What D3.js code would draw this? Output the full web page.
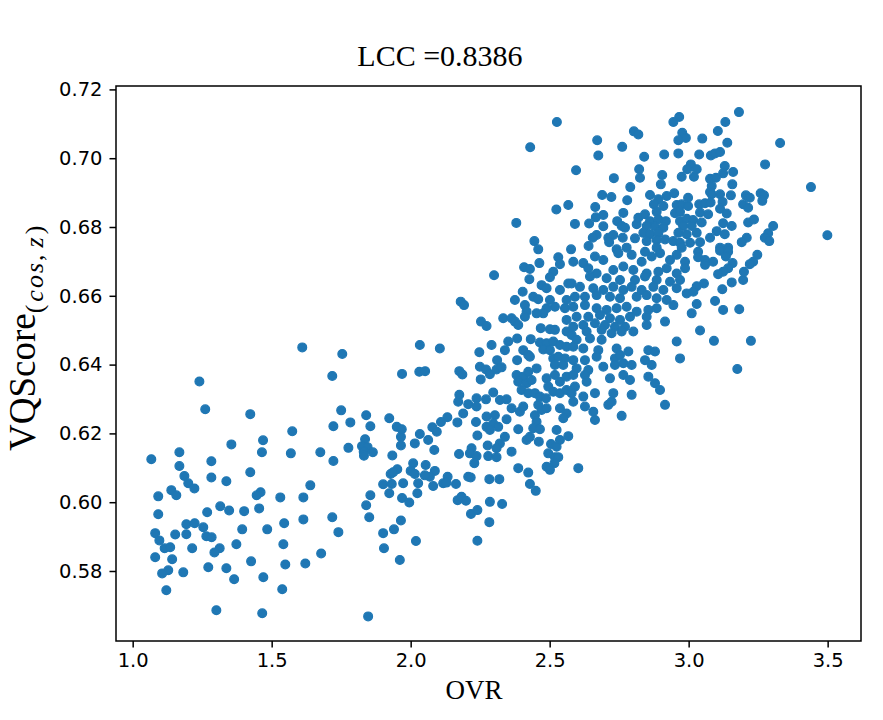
<!DOCTYPE html>
<html>
<head>
<meta charset="utf-8">
<script src="https://cdn.jsdelivr.net/npm/d3@7"></script>
<style>
  body { margin: 0; background: #fff; }
  svg { display: block; }
</style>
</head>
<body>
<div id="chart"></div>
<script>
const width = 883;
const height = 720;

const margin = {top: 86, right: 22, bottom: 79, left: 116};

const titleText = "LCC =0.8386";
const xLabel = "OVR";
const xTicks = [1.0, 1.5, 2.0, 2.5, 3.0, 3.5];
const yTicks = [0.58, 0.60, 0.62, 0.64, 0.66, 0.68, 0.70, 0.72];

// [OVR, VQScore] pairs, left sparse part first
const lowSamples = [
  [1.610,.6450],[1.754,.6431],[1.718,.6367],[1.240,.6351],[1.261,.6270],[1.423,.6256],[1.750,.6267],[1.840,.6253],[1.783,.6232],[1.722,.6221],
  [1.855,.6221],[1.574,.6206],[1.836,.6183],[1.469,.6180],[1.355,.6168],[1.825,.6163],[1.845,.6160],[1.776,.6158],[1.831,.6147],[1.864,.6145],
  [1.832,.6135],[1.168,.6145],[1.465,.6145],[1.569,.6142],[1.675,.6145],[1.067,.6125],[1.283,.6119],[1.722,.6120],[1.168,.6105],[1.423,.6087],
  [1.186,.6076],[1.283,.6072],[1.337,.6061],[1.200,.6055],[1.222,.6040],[1.639,.6049],[1.139,.6035],[1.157,.6020],[1.092,.6017],[1.460,.6029],
  [1.446,.6020],[1.531,.6014],[1.614,.6014],[1.855,.6020],[1.840,.5991],[1.315,.5988],[1.347,.5976],[1.455,.5982],[1.268,.5971],[1.401,.5974],
  [1.092,.5965],[1.851,.5956],[1.718,.5956],[1.614,.5950],[1.545,.5939],[1.193,.5936],[1.223,.5939],[1.254,.5927],[1.394,.5921],[1.484,.5921],
  [1.740,.5913],[1.081,.5910],[1.153,.5906],[1.193,.5907],[1.265,.5901],[1.284,.5898],[1.096,.5889],[1.115,.5866],[1.135,.5869],[1.214,.5866],
  [1.313,.5866],[1.294,.5854],[1.373,.5878],[1.542,.5878],[1.678,.5851],[1.081,.5840],[1.142,.5834],[1.426,.5828],[1.549,.5819],[1.621,.5822],
  [1.272,.5811],[1.337,.5808],[1.128,.5802],[1.106,.5793],[1.182,.5796],[1.365,.5776],[1.470,.5782],[1.121,.5744],[1.538,.5747],[1.301,.5686],
  [1.466,.5677],[1.847,.5668]
];

const midSamples = [
  [2.033,.6457],[2.105,.6447],[2.291,.6457],[2.247,.6436],[2.339,.6442],[2.311,.6413],[1.969,.6373],[2.031,.6379],[2.052,.6381],[2.175,.6381],
  [2.186,.6371],[2.249,.6394],[2.271,.6386],[2.285,.6372],[2.309,.6386],[2.327,.6392],[2.252,.6357],[2.297,.6319],[2.175,.6312],[2.171,.6292],
  [2.207,.6285],[2.237,.6302],[2.237,.6278],[2.271,.6299],[2.321,.6297],[2.345,.6299],[2.189,.6258],[1.923,.6244],[2.132,.6247],[2.109,.6233],
  [2.168,.6232],[2.235,.6233],[2.273,.6249],[2.303,.6253],[2.273,.6219],[2.297,.6229],[2.315,.6219],[2.345,.6241],[2.285,.6210],[1.950,.6219],
  [1.968,.6212],[1.965,.6190],[1.965,.6165],[2.078,.6218],[2.094,.6205],[2.033,.6198],[2.015,.6171],[2.063,.6181],[2.240,.6194],[2.321,.6171],
  [2.339,.6190],[2.309,.6157],[2.277,.6165],[2.085,.6152],[1.934,.6136],[2.174,.6140],[2.219,.6157],[2.213,.6142],[2.237,.6134],[2.229,.6113],
  [2.279,.6134],[2.309,.6131],[2.009,.6113],[2.054,.6108],[2.000,.6091],[2.015,.6082],[1.952,.6096],[1.928,.6082],[1.937,.6087],[2.087,.6091],
  [2.069,.6074],[2.051,.6078],[2.133,.6074],[2.117,.6055],[2.207,.6074],[2.216,.6072],[2.283,.6067],[2.319,.6067],[1.901,.6052],[1.932,.6053],
  [1.973,.6055],[1.923,.6026],[2.027,.6055],[2.024,.6026],[2.081,.6047],[2.129,.6057],[2.163,.6053],[1.969,.6012],[1.995,.5999],[2.169,.6006],
  [2.183,.6016],[2.199,.6004],[2.285,.6001],[2.329,.5995],[2.217,.5966],[2.240,.5977],[1.965,.5947],[1.940,.5921],[1.901,.5910],[2.283,.5942],
  [1.904,.5866],[2.019,.5887],[2.240,.5888],[1.961,.5832],
  [2.363,.6273],[2.393,.6263],[2.405,.6278],[2.459,.6283],[2.471,.6268],[2.489,.6273],[2.537,.6273],[2.561,.6258],[2.549,.6244],[2.585,.6292],
  [2.627,.6278],[2.657,.6263],[2.663,.6239],[2.711,.6283],[2.723,.6292],[2.759,.6251],[2.447,.6253],[2.453,.6234],[2.441,.6215],[2.465,.6212],
  [2.387,.6212],[2.525,.6210],[2.567,.6192],[2.537,.6181],[2.417,.6181],[2.429,.6190],[2.461,.6176],[2.505,.6169],[2.525,.6161],[2.363,.6147],
  [2.495,.6142],[2.519,.6131],[2.531,.6131],[2.517,.6113],[2.489,.6103],[2.501,.6094],[2.387,.6099],[2.423,.6086],[2.603,.6099],[2.429,.6053],
  [2.450,.6033],[2.915,.6283]
];

const highSamples = [
  [2.526,.7105],[2.803,.7078],[2.819,.7069],[2.671,.7052],[2.430,.7032],[2.761,.7033],[2.675,.7008],[2.595,.6965],[2.822,.6968],[2.825,.6943],
  [2.731,.6942],[2.790,.6916],[2.689,.6893],[2.722,.6887],[2.779,.6878],[2.567,.6864],[2.524,.6851],[2.664,.6858],[2.765,.6841],[2.693,.6835],
  [2.666,.6828],[2.380,.6812],[2.591,.6809],[2.642,.6810],[2.693,.6802],[2.743,.6817],[2.759,.6803],[2.771,.6798],[2.813,.6808],[2.819,.6827],
  [2.729,.6777],[2.711,.6769],[2.714,.6756],[2.763,.6769],[2.807,.6767],[2.669,.6777],[2.655,.6769],[2.445,.6759],[2.459,.6735],[2.577,.6735],
  [2.640,.6745],[2.741,.6735],[2.777,.6740],
  [3.181,.7134],[2.966,.7120],[2.945,.7105],[3.132,.7105],[3.105,.7079],[2.977,.7074],[2.990,.7059],[2.963,.7052],[3.049,.7057],[3.139,.7045],
  [3.329,.7044],[2.912,.7011],[2.963,.7014],[3.038,.7011],[3.080,.7008],[3.095,.7014],[3.113,.7018],[2.840,.7004],[3.275,.6982],[3.008,.6982],
  [2.995,.6968],[3.029,.6968],[3.019,.6946],[2.975,.6946],[3.130,.6977],[3.160,.6960],[3.124,.6956],[2.905,.6951],[2.900,.6924],[3.077,.6940],
  [3.098,.6943],[3.157,.6924],[3.440,.6916],[3.083,.6919],[3.077,.6902],[3.083,.6895],[3.113,.6895],[2.861,.6893],[2.891,.6881],[2.921,.6890],
  [2.948,.6898],[2.998,.6885],[3.152,.6892],[3.206,.6892],[3.220,.6885],[3.196,.6866],[3.214,.6856],[3.259,.6898],[3.271,.6892],[3.265,.6876],
  [2.875,.6866],[2.909,.6861],[2.957,.6864],[2.975,.6866],[2.998,.6861],[3.038,.6866],[3.059,.6869],[3.079,.6871],[3.122,.6873],[3.113,.6853],
  [3.137,.6839],[2.843,.6837],[2.885,.6844],[2.951,.6840],[2.969,.6844],[3.041,.6842],[3.070,.6837],[3.214,.6813],[3.235,.6822],[3.304,.6803],
  [3.286,.6782],[3.274,.6769],[3.290,.6759],[3.499,.6776],[2.861,.6817],[2.891,.6822],[2.918,.6817],[2.849,.6803],[2.879,.6801],[2.909,.6798],
  [2.837,.6783],[2.861,.6779],[2.891,.6783],[2.969,.6817],[2.993,.6824],[3.016,.6820],[3.011,.6803],[2.980,.6803],[2.963,.6783],[2.993,.6779],
  [3.029,.6783],[3.047,.6813],[3.124,.6811],[3.155,.6803],[3.101,.6788],[3.130,.6779],[3.077,.6769],[3.209,.6769],[3.191,.6756],[2.849,.6759],
  [2.885,.6762],[2.915,.6764],[2.945,.6759],[2.969,.6754],[3.005,.6754],[3.041,.6756],[3.113,.6740],[3.142,.6740],[2.885,.6740],[2.975,.6740]
];

const coreSamples = [
  [2.531,.6712],[2.537,.6692],[2.408,.6683],[2.429,.6678],[2.463,.6695],[2.300,.6660],[2.513,.6670],[2.501,.6654],[2.427,.6648],[2.567,.6636],
  [2.471,.6631],[2.489,.6622],[2.537,.6617],[2.403,.6612],[2.180,.6583],[2.192,.6573],[2.441,.6597],[2.459,.6590],[2.375,.6588],[2.501,.6588],
  [2.519,.6568],[2.489,.6564],[2.477,.6549],[2.561,.6588],[2.555,.6564],[2.411,.6573],[2.417,.6554],[2.411,.6539],[2.453,.6549],[2.333,.6535],
  [2.363,.6535],[2.375,.6525],[2.387,.6515],[2.253,.6525],[2.273,.6512],[2.561,.6530],[2.561,.6496],[2.468,.6506],[2.501,.6503],[2.519,.6501],
  [2.383,.6476],[2.432,.6474],[2.465,.6464],[2.489,.6462],[2.513,.6467],[2.537,.6457],[2.561,.6452],[2.351,.6467],[2.405,.6442],[2.423,.6428],
  [2.429,.6423],[2.477,.6444],[2.501,.6442],[2.383,.6413],[2.513,.6418],[2.531,.6423],[2.555,.6418],[2.519,.6399],[2.549,.6399],[2.381,.6370],
  [2.405,.6365],[2.423,.6379],[2.453,.6389],[2.387,.6350],[2.417,.6346],[2.435,.6355],[2.399,.6326],[2.423,.6317],[2.447,.6317],[2.489,.6360],
  [2.519,.6370],[2.537,.6350],[2.561,.6365],[2.495,.6336],[2.513,.6321],[2.537,.6317],[2.561,.6326],[2.465,.6307],[2.487,.6302],
  [2.663,.6714],[2.693,.6704],[2.747,.6724],[2.795,.6719],[2.831,.6699],[2.867,.6714],[2.897,.6724],[2.933,.6704],[2.957,.6719],[2.987,.6699],
  [2.585,.6699],[2.621,.6695],[2.843,.6728],[2.639,.6680],[2.669,.6665],[2.729,.6675],[2.765,.6685],[2.801,.6675],[2.849,.6665],[2.891,.6670],
  [2.921,.6680],[2.957,.6665],[2.987,.6680],[2.645,.6656],[2.705,.6651],[2.753,.6646],[2.807,.6646],[2.843,.6656],[2.885,.6646],[2.933,.6641],
  [2.969,.6646],[2.579,.6636],[2.609,.6626],[2.657,.6622],[2.693,.6617],[2.729,.6626],[2.765,.6617],[2.795,.6626],[2.831,.6617],[2.873,.6626],
  [2.909,.6617],[2.957,.6622],[2.993,.6607],[2.591,.6597],[2.627,.6597],[2.669,.6602],[2.717,.6597],[2.753,.6593],[2.813,.6597],[2.849,.6602],
  [2.885,.6593],[2.921,.6588],[2.945,.6573],[2.585,.6568],[2.627,.6573],[2.669,.6564],[2.705,.6559],[2.741,.6564],[2.777,.6568],[2.813,.6554],
  [2.855,.6559],[2.885,.6564],[2.597,.6539],[2.639,.6539],[2.681,.6544],[2.717,.6535],[2.753,.6530],[2.789,.6539],[2.849,.6539],[2.915,.6525],
  [2.585,.6510],[2.621,.6515],[2.663,.6520],[2.699,.6515],[2.735,.6510],[2.771,.6510],[2.849,.6515],[2.579,.6486],[2.633,.6496],[2.687,.6501],
  [2.723,.6491],[2.759,.6496],[2.801,.6496],[2.597,.6472],[2.645,.6476],[2.687,.6472],[2.585,.6452],[2.621,.6447],[2.675,.6442],[2.741,.6447],
  [2.783,.6438],[2.855,.6442],[2.879,.6438],[2.957,.6467],[2.585,.6413],[2.627,.6413],[2.669,.6423],[2.735,.6418],[2.753,.6428],[2.795,.6399],
  [2.843,.6413],[2.867,.6399],[2.969,.6418],[2.597,.6389],[2.639,.6384],[2.693,.6394],[2.735,.6399],[2.765,.6404],[2.585,.6370],[2.627,.6370],
  [2.717,.6360],[2.765,.6370],[2.789,.6355],[2.855,.6365],[2.879,.6346],[2.591,.6336],[2.633,.6350],[2.663,.6317],[2.579,.6317],[2.729,.6317],
  [2.795,.6312],[2.897,.6326],[2.621,.6307],
  [3.034,.6728],[3.113,.6731],[3.142,.6728],[3.247,.6719],[3.232,.6699],[3.220,.6692],[3.034,.6712],[3.059,.6704],[3.088,.6699],[3.059,.6690],
  [3.134,.6714],[3.158,.6695],[3.142,.6680],[3.124,.6670],[3.106,.6663],[3.199,.6670],[3.196,.6646],[3.155,.6639],[3.055,.6636],[3.029,.6628],
  [3.017,.6612],[3.121,.6619],[3.095,.6585],[3.029,.6576],[3.011,.6549],[3.124,.6559],[3.182,.6561],[3.041,.6499],[3.091,.6469],[3.224,.6469],
  [3.175,.6387]
];

const donnees = lowSamples.concat(midSamples, highSamples, coreSamples)
  .map(d => ({ovr: d[0], vq: d[1]}));

const svg = d3.select("#chart")
  .append("svg")
    .attr("width", width)
    .attr("height", height)
    .style("background", "#fff");

const x = d3.scaleLinear()
  .domain([0.94, 3.62])
  .range([margin.left, width - margin.right]);

const y = d3.scaleLinear()
  .domain([0.55965, 0.72099])
  .range([height - margin.bottom, margin.top]);

// points
svg.append("g")
  .selectAll("circle")
  .data(donnees)
  .enter()
  .append("circle")
    .attr("cx", d => x(d.ovr))
    .attr("cy", d => y(d.vq))
    .attr("r", 4.4)
    .attr("fill", "#1f77b4")
    .attr("stroke", "#1f77b4")
    .attr("stroke-width", 1.2);

// axes
const xAxis = svg.append("g")
  .attr("transform", "translate(0," + (height - margin.bottom) + ")")
  .call(d3.axisBottom(x).tickValues(xTicks).tickFormat(d3.format(".1f"))
    .tickSizeInner(6.5).tickSizeOuter(0).tickPadding(6));

const yAxis = svg.append("g")
  .attr("transform", "translate(" + margin.left + ",0)")
  .call(d3.axisLeft(y).tickValues(yTicks).tickFormat(d3.format(".2f"))
    .tickSizeInner(6.5).tickSizeOuter(0).tickPadding(7));

[xAxis, yAxis].forEach(g => {
  g.select(".domain").remove();
  g.selectAll(".tick line").attr("stroke", "#000").attr("stroke-width", 1.5);
  g.selectAll(".tick text")
    .attr("fill", "#000")
    .style("font-family", "'DejaVu Sans', sans-serif")
    .style("font-size", "19.5px");
});

// frame
svg.append("rect")
  .attr("x", margin.left)
  .attr("y", margin.top)
  .attr("width", width - margin.left - margin.right)
  .attr("height", height - margin.top - margin.bottom)
  .attr("fill", "none")
  .attr("stroke", "#000")
  .attr("stroke-width", 1.5);

// title
svg.append("text")
  .attr("x", 440)
  .attr("y", 66)
  .attr("text-anchor", "middle")
  .style("font-family", "'Liberation Serif', 'Times New Roman', serif")
  .style("font-size", "30px")
  .text(titleText);

// x label
svg.append("text")
  .attr("x", 474)
  .attr("y", 699)
  .attr("text-anchor", "middle")
  .style("font-family", "'Liberation Serif', 'Times New Roman', serif")
  .style("font-size", "27px")
  .text(xLabel);

// y label with subscript
const yLab = svg.append("text")
  .attr("transform", "translate(35,451) rotate(-90)")
  .style("font-family", "'Liberation Serif', 'Times New Roman', serif")
  .style("font-size", "37px");
yLab.append("tspan").text("VQScore");
const sub = yLab.append("tspan").attr("dy", 8).style("font-size", "26px");
sub.append("tspan").text("(");
sub.append("tspan").style("font-style", "italic").style("letter-spacing", "2px").attr("dx", 3).text("cos");
sub.append("tspan").text(",");
sub.append("tspan").style("font-style", "italic").attr("dx", 7).text("z");
sub.append("tspan").attr("dx", 3).text(")");
</script>
</body>
</html>
